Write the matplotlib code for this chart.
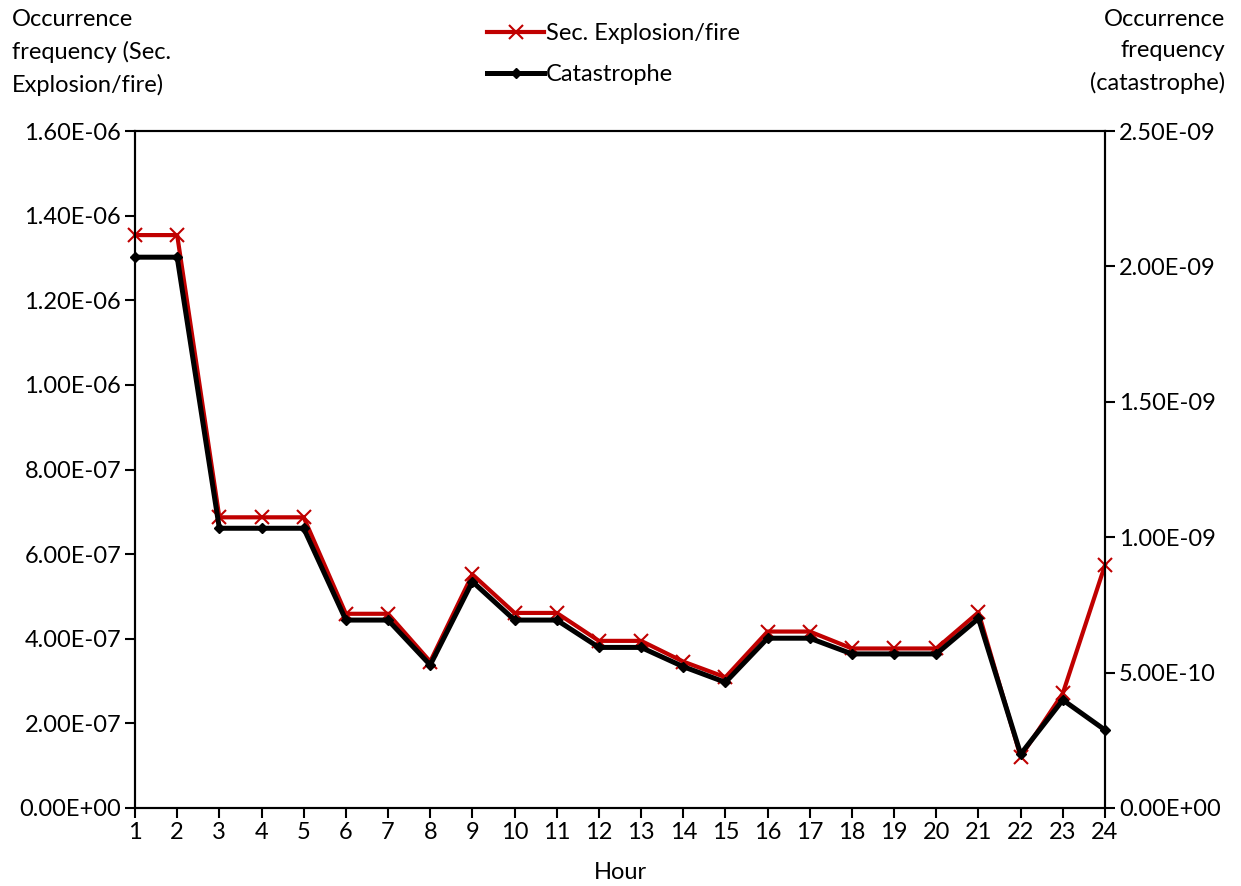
import numpy as np
import matplotlib.pyplot as plt
from matplotlib.lines import Line2D

plt.rcParams['font.family'] = ['Lato', 'DejaVu Sans']

## data
hours = list(range(1, 25))
sec_fire = [1.354e-6, 1.354e-6, 0.687e-6, 0.687e-6, 0.687e-6, 0.459e-6, 0.459e-6,
            0.346e-6, 0.552e-6, 0.461e-6, 0.461e-6, 0.395e-6, 0.395e-6, 0.346e-6,
            0.309e-6, 0.417e-6, 0.417e-6, 0.377e-6, 0.377e-6, 0.377e-6, 0.4625e-6,
            0.121e-6, 0.271e-6, 0.574e-6]
catastrophe = [2.034e-9, 2.034e-9, 1.033e-9, 1.033e-9, 1.033e-9, 0.694e-9, 0.694e-9,
               0.528e-9, 0.836e-9, 0.694e-9, 0.694e-9, 0.593e-9, 0.593e-9, 0.522e-9,
               0.464e-9, 0.627e-9, 0.627e-9, 0.569e-9, 0.569e-9, 0.569e-9, 0.700e-9,
               0.199e-9, 0.399e-9, 0.288e-9]
left_ticks = [0, 2e-7, 4e-7, 6e-7, 8e-7, 1e-6, 1.2e-6, 1.4e-6, 1.6e-6]
right_ticks = [0, 5e-10, 1e-9, 1.5e-9, 2e-9, 2.5e-9]

RED = '#c00000'
FS = 17

fig = plt.figure(figsize=(12.41, 8.86), dpi=100)
ax = fig.add_axes([135/1241, 1-808/886, 970/1241, 677/886])
ax2 = ax.twinx()

ax.plot(hours, sec_fire, color=RED, lw=3, marker='x', ms=10, mew=1.5, clip_on=False, zorder=3)
ax2.plot(hours, catastrophe, color='black', lw=3.6, marker='D', ms=5, clip_on=False, zorder=3)

ax.set_xlim(1, 24)
ax.set_ylim(0, 1.6e-6)
ax2.set_ylim(0, 2.5e-9)
ax.set_xticks(hours)
ax.set_yticks(left_ticks)
ax2.set_yticks(right_ticks)
ax.set_yticklabels(['%.2E' % v for v in left_ticks])
ax2.set_yticklabels(['%.2E' % v for v in right_ticks])

for a in (ax, ax2):
    a.tick_params(direction='out', length=7, width=1.5, labelsize=FS, pad=3)
    for s in a.spines.values():
        s.set_linewidth(1.5)

ax.set_xlabel('Hour', fontsize=FS, labelpad=14)

fig.text(12/1241, 1-9/886, 'Occurrence\nfrequency (Sec.\nExplosion/fire)', fontsize=FS,
         ha='left', va='top', linespacing=1.6)
fig.text(1225/1241, 1-9/886, 'Occurrence\nfrequency\n(catastrophe)', fontsize=FS,
         ha='right', va='top', linespacing=1.6, multialignment='right')

handles = [Line2D([], [], color=RED, lw=3, marker='x', ms=10, mew=1.5),
           Line2D([], [], color='black', lw=3.6, marker='D', ms=5)]
fig.legend(handles, ['Sec. Explosion/fire', 'Catastrophe'], loc='upper left',
           bbox_to_anchor=(466/1241, 1-2/886), frameon=False, fontsize=FS,
           handlelength=2.4, handletextpad=0.1, labelspacing=0.85)

fig.savefig('out.png', dpi=100)
